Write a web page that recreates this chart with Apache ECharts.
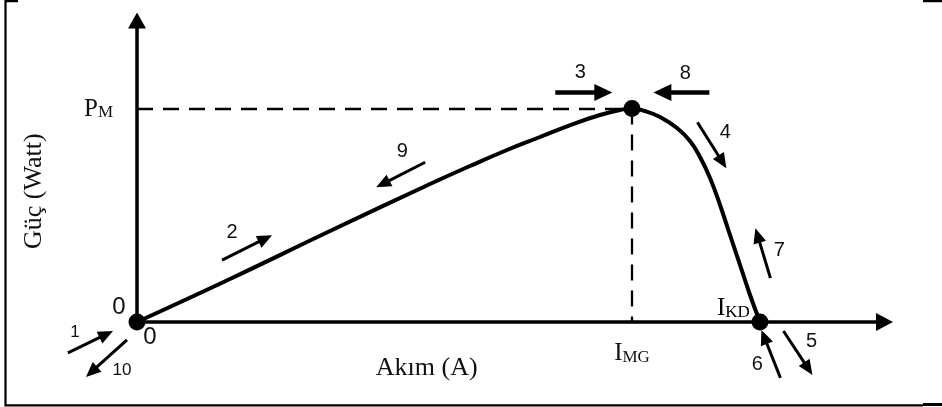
<!DOCTYPE html>
<html>
<head>
<meta charset="utf-8">
<script src="https://cdn.jsdelivr.net/npm/echarts@6/dist/echarts.min.js"></script>
<style>
  html, body { margin: 0; padding: 0; background: #fff; }
  #chart { width: 942px; height: 407px; }
</style>
</head>
<body>
<div id="chart"></div>
<script>
// Power–current characteristic of a PV panel, with the MPPT search steps 1..10

// curve samples (relative units on both axes)
const current = [0, 12.44, 25.82, 39.20, 44.55, 49.50, 53.91, 58.33, 61.94, 64.62, 66.22,
                 67.96, 69.97, 72.24, 73.98, 75.32, 76.66, 78.00, 79.33, 80.67, 82.01, 83.34];
const power   = [0, 14.26, 30.18, 45.77, 51.74, 57.05, 61.36, 65.67, 68.66, 70.32, 70.81,
                 69.98, 67.99, 64.34, 60.03, 54.73, 47.76, 38.81, 28.86, 18.91, 8.96, 0];

// characteristic points
const iMg = 66.22;   // current at maximum power
const pMax = 70.81;  // maximum power
const iKd = 83.34;   // short-circuit current

// search steps: tail, tip and number position (same units as the axes)
const stepNames = ['1', '2', '3', '4', '5', '6', '7', '8', '9', '10'];
const stepTail = [[-9.24, -10.26], [11.38, 20.53], [55.96, 76.16], [74.97, 66.23], [86.48, -2.98],
                  [86.08, -18.54], [84.74, 14.57], [76.57, 76.16], [38.55, 52.98], [-1.34, -5.96]];
const stepTip  = [[-3.21, -2.98], [18.07, 28.81], [63.59, 76.16], [78.85, 50.99], [90.36, -17.55],
                  [83.53, -2.65], [82.73, 31.13], [69.08, 76.16], [31.99, 44.70], [-6.83, -18.21]];
const stepNumberAt = [[-8.30, -3.31], [12.72, 29.80], [59.30, 82.78], [78.71, 62.91], [90.23, -6.62],
                      [83.00, -14.24], [85.94, 23.84], [73.36, 82.45], [35.48, 56.62], [-2.01, -15.89]];
const boldSteps = ['3', '8'];

// free-standing axis notes
const noteText = ['0', '0', 'IKD'];
const noteAt = [[-2.41, 4.97], [1.74, -4.97], [79.79, 4.64]];

const SERIF = '"Liberation Serif", "Times New Roman", serif';
const SANS = '"Liberation Sans", Arial, sans-serif';

const subRich = {
  big: { fontFamily: SERIF, fontSize: 25, lineHeight: 26, verticalAlign: 'bottom', color: '#111' },
  sub: { fontFamily: SERIF, fontSize: 17, lineHeight: 12, verticalAlign: 'bottom', color: '#111' }
};

const chart = echarts.init(document.getElementById('chart'), null, { renderer: 'canvas' });

const curveData = current.map((c, i) => [c, power[i]]);
const stepData = stepNames.map((n, i) => [stepTail[i][0], stepTail[i][1], stepTip[i][0], stepTip[i][1],
                                          stepNumberAt[i][0], stepNumberAt[i][1]]);
const noteData = noteText.map((t, i) => [noteAt[i][0], noteAt[i][1]]);

function renderStep(params, api) {
  const i = params.dataIndex;
  const p0 = api.coord([api.value(0), api.value(1)]);
  const p1 = api.coord([api.value(2), api.value(3)]);
  const pl = api.coord([api.value(4), api.value(5)]);
  const bold = boldSteps.indexOf(stepNames[i]) >= 0;
  const lw = bold ? 4.5 : 3;
  const hl = bold ? 18 : 15;
  const hw = bold ? 17 : 13;
  const dx = p1[0] - p0[0], dy = p1[1] - p0[1];
  const len = Math.hypot(dx, dy);
  const ux = dx / len, uy = dy / len;
  const nx = -uy, ny = ux;
  const bx = p1[0] - ux * hl, by = p1[1] - uy * hl;
  const num = stepNames[i];
  const fs = (num === '1' || num === '10') ? 17 : 20;
  return {
    type: 'group',
    children: [
      { type: 'line', shape: { x1: p0[0], y1: p0[1], x2: bx + ux * 2, y2: by + uy * 2 },
        style: { stroke: '#000', lineWidth: lw } },
      { type: 'polygon', shape: { points: [[p1[0], p1[1]], [bx + nx * hw / 2, by + ny * hw / 2], [bx - nx * hw / 2, by - ny * hw / 2]] },
        style: { fill: '#000' } },
      { type: 'text', x: pl[0], y: pl[1],
        style: { text: num, fontFamily: SANS, fontSize: fs, fill: '#111', align: 'center', verticalAlign: 'middle' } }
    ]
  };
}

function renderNote(params, api) {
  const i = params.dataIndex;
  const p = api.coord([api.value(0), api.value(1)]);
  const t = noteText[i];
  if (t === 'IKD') {
    return { type: 'text', x: p[0], y: p[1],
      style: { text: '{big|I}{sub|KD}', rich: subRich, align: 'center', verticalAlign: 'middle' } };
  }
  return { type: 'text', x: p[0], y: p[1],
    style: { text: t, fontFamily: SANS, fontSize: 24, fill: '#111', align: 'center', verticalAlign: 'middle' } };
}

chart.setOption({
  animation: false,
  backgroundColor: '#fff',
  grid: { left: 137, right: 57.5, top: 20.5, bottom: 85, containLabel: false },
  xAxis: {
    type: 'value', min: 0, max: 100,
    name: 'Akım (A)', nameLocation: 'middle', nameGap: 33, nameMoveOverlap: false,
    nameTextStyle: { fontFamily: SERIF, fontSize: 26, color: '#111', padding: [0, 168, 0, 0] },
    axisLine: { show: true, symbol: ['none', 'triangle'], symbolSize: [18, 17], lineStyle: { color: '#000', width: 3.5 } },
    axisTick: { show: false },
    splitLine: { show: false },
    axisLabel: {
      customValues: [iMg], margin: 18,
      formatter: () => '{big|I}{sub|MG}', rich: subRich
    }
  },
  yAxis: {
    type: 'value', min: 0, max: 100,
    name: 'Güç (Watt)', nameLocation: 'middle', nameGap: 90, nameRotate: 90, nameMoveOverlap: false,
    nameTextStyle: { fontFamily: SERIF, fontSize: 26, color: '#111', padding: [0, 40, 0, 0] },
    axisLine: { show: true, symbol: ['none', 'triangle'], symbolSize: [18, 16], lineStyle: { color: '#000', width: 3.5 } },
    axisTick: { show: false },
    splitLine: { show: false },
    axisLabel: {
      customValues: [pMax], margin: 24,
      formatter: () => '{big|P}{sub|M}', rich: subRich
    }
  },
  graphic: [
    // border of the figure box
    { type: 'polyline', shape: { points: [[18, 1.2], [5.5, 1.2], [5.5, 405.3], [923, 405.3]] },
      style: { stroke: '#000', lineWidth: 2.2, fill: null } },
    { type: 'line', shape: { x1: 923, y1: 404.5, x2: 942, y2: 404.5 }, style: { stroke: '#000', lineWidth: 3 } },
    { type: 'line', shape: { x1: 923, y1: 1, x2: 942, y2: 1 }, style: { stroke: '#000', lineWidth: 2.5 } }
  ],
  series: [
    {
      type: 'line', name: 'P(I)', data: curveData,
      smooth: 0.45, showSymbol: false, symbol: 'none',
      lineStyle: { color: '#000', width: 4 },
      z: 3,
      markLine: {
        silent: true, symbol: 'none', animation: false,
        label: { show: false },
        lineStyle: { color: '#000', width: 2.3, type: [16, 10] },
        data: [
          [{ coord: [0, pMax] }, { coord: [iMg, pMax] }],
          [{ coord: [iMg, pMax] }, { coord: [iMg, 0] }]
        ]
      }
    },
    {
      type: 'scatter', name: 'points',
      data: [[0, 0], [iMg, pMax], [iKd, 0]],
      symbol: 'circle', symbolSize: 17,
      itemStyle: { color: '#000', opacity: 1 },
      z: 5
    },
    {
      type: 'custom', name: 'steps', data: stepData,
      encode: { x: [0, 2, 4], y: [1, 3, 5] },
      renderItem: renderStep, clip: false, z: 6
    },
    {
      type: 'custom', name: 'notes', data: noteData,
      encode: { x: 0, y: 1 },
      renderItem: renderNote, clip: false, z: 6
    }
  ]
});
</script>
</body>
</html>
